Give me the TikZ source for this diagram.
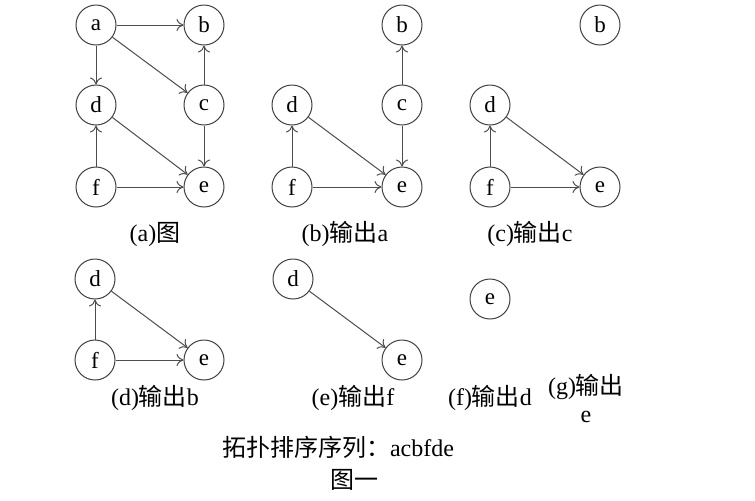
\documentclass[tikz,border=0pt]{standalone}
\usepackage{fontspec}
\setmainfont{Liberation Serif}
\newfontfamily\cjk{Noto Sans CJK SC}
\usetikzlibrary{arrows.meta}

\tikzset{
  vtx/.style={draw=black!75, circle, minimum size=20pt, inner sep=0pt, line width=0.5pt, font=\fontsize{11.5}{13}\selectfont},
  edge/.style={-{To[length=3.5pt,width=6pt]}, draw=black!70, line width=0.5pt},
  lbl/.style={font=\fontsize{12}{14}\selectfont}
}

\begin{document}
\begin{tikzpicture}[x=0.5pt,y=-0.5pt]
        \useasboundingbox (0,0) rectangle (755,500);
        % (a)
        \node[vtx] (a1) at (96,25) {a};
        \node[vtx] (b1) at (204,25) {b};
        \node[vtx] (d1) at (96,105) {d};
        \node[vtx] (c1) at (204,105) {c};
        \node[vtx] (f1) at (96,187) {f};
        \node[vtx] (e1) at (204,187) {e};
        \draw[edge] (a1)--(b1);
        \draw[edge] (a1)--(d1);
        \draw[edge] (a1)--(c1);
        \draw[edge] (c1)--(b1);
        \draw[edge] (c1)--(e1);
        \draw[edge] (d1)--(e1);
        \draw[edge] (f1)--(d1);
        \draw[edge] (f1)--(e1);
        \node[lbl] (capa) at (155,234) {(a){\cjk 图}};
        % (b)
        \node[vtx] (b2) at (402,25) {b};
        \node[vtx] (d2) at (292,105) {d};
        \node[vtx] (c2) at (402,105) {c};
        \node[vtx] (f2) at (292,187) {f};
        \node[vtx] (e2) at (402,187) {e};
        \draw[edge] (c2)--(b2);
        \draw[edge] (c2)--(e2);
        \draw[edge] (d2)--(e2);
        \draw[edge] (f2)--(d2);
        \draw[edge] (f2)--(e2);
        \node[lbl] (capb) at (345,234) {(b){\cjk 输出}a};
        % (c)
        \node[vtx] (b3) at (600,25) {b};
        \node[vtx] (d3) at (490,105) {d};
        \node[vtx] (f3) at (490,187) {f};
        \node[vtx] (e3) at (600,187) {e};
        \draw[edge] (d3)--(e3);
        \draw[edge] (f3)--(d3);
        \draw[edge] (f3)--(e3);
        \node[lbl] (capc) at (530,234) {(c){\cjk 输出}c};
        % (d)
        \node[vtx] (d4) at (95,279) {d};
        \node[vtx] (f4) at (95,360) {f};
        \node[vtx] (e4) at (204,360) {e};
        \draw[edge] (d4)--(e4);
        \draw[edge] (f4)--(d4);
        \draw[edge] (f4)--(e4);
        \node[lbl] (capd) at (155,398) {(d){\cjk 输出}b};
        % (e)
        \node[vtx] (d5) at (293,279) {d};
        \node[vtx] (e5) at (402,360) {e};
        \draw[edge] (d5)--(e5);
        \node[lbl] (cape) at (353,398) {(e){\cjk 输出}f};
        % (f)
        \node[vtx] (e6) at (490,299) {e};
        \node[lbl] (capf) at (490,398) {(f){\cjk 输出}d};
        % (g)
        \node[lbl, align=center] (capg) at (586,398) {(g){\cjk 输出}\\e};
        % bottom
        \node[lbl] (seq) at (338,447) {{\cjk 拓扑排序序列：}acbfde};
        \node[lbl] (title) at (354,480) {{\cjk 图一}};
     \end{tikzpicture}
\end{document}
